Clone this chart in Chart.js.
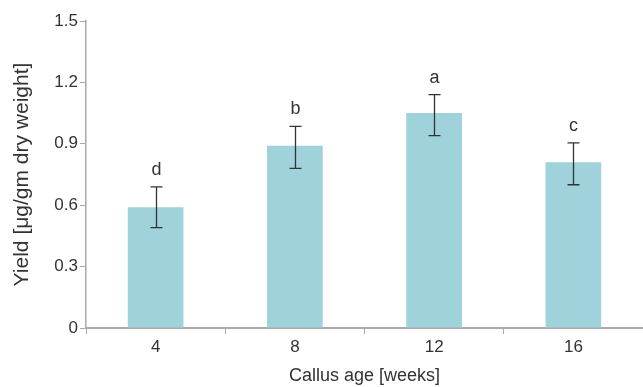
<!DOCTYPE html>
<html>
<head>
<meta charset="utf-8">
<script src="https://cdn.jsdelivr.net/npm/chart.js@4/dist/chart.umd.min.js"></script>
<style>
html,body{margin:0;padding:0;background:#fff;}
#wrap{width:643px;height:387px;position:relative;}
</style>
</head>
<body>
<div id="wrap"><canvas id="c" width="643" height="387"></canvas></div>
<script>
const categories = ['4', '8', '12', '16'];
const yieldValues = [0.59, 0.89, 1.05, 0.81];
const errorLower = [0.49, 0.78, 0.94, 0.70];
const errorUpper = [0.69, 0.985, 1.14, 0.905];
const letters = ['d', 'b', 'a', 'c'];
const yTicks = [0, 0.3, 0.6, 0.9, 1.2, 1.5];

const FONT = "'Liberation Sans', Arial, sans-serif";
const TEXT = '#333333';
const AXIS = '#aaaaaa';

const errorPlugin = {
  id: 'errorBars',
  afterDatasetsDraw(chart) {
    const ctx = chart.ctx;
    const y = chart.scales.y;
    const meta = chart.getDatasetMeta(0);
    ctx.save();
    ctx.strokeStyle = '#333333';
    ctx.lineWidth = 1.3;
    meta.data.forEach((bar, i) => {
      const x = Math.round(bar.x) + 0.5;
      const yl = y.getPixelForValue(errorLower[i]);
      const yu = y.getPixelForValue(errorUpper[i]);
      ctx.beginPath();
      ctx.moveTo(x, yl); ctx.lineTo(x, yu);
      ctx.moveTo(x - 6, yu); ctx.lineTo(x + 6, yu);
      ctx.moveTo(x - 6, yl); ctx.lineTo(x + 6, yl);
      ctx.stroke();
      ctx.fillStyle = TEXT;
      ctx.font = '18px ' + FONT;
      ctx.textAlign = 'center';
      ctx.textBaseline = 'alphabetic';
      ctx.fillText(letters[i], x, yu - 12);
    });
    ctx.restore();
  }
};

new Chart(document.getElementById('c'), {
  type: 'bar',
  data: {
    labels: categories,
    datasets: [{
      data: yieldValues,
      backgroundColor: '#9fd2db',
      borderWidth: 0,
      categoryPercentage: 1.0,
      barPercentage: 0.4
    }]
  },
  options: {
    responsive: false,
    animation: false,
    events: [],
    layout: { padding: { top: 21, right: 0, bottom: 0, left: 0 } },
    plugins: { legend: { display: false }, tooltip: { enabled: false } },
    scales: {
      x: {
        offset: true,
        afterFit(s) { s.height = 59; },
        grid: { offset: true, drawOnChartArea: false, drawTicks: true, tickLength: 6, color: AXIS, lineWidth: 1 },
        border: { color: AXIS, width: 2 },
        ticks: { color: TEXT, font: { family: FONT, size: 17 }, padding: 3 },
        title: { display: true, text: 'Callus age [weeks]', color: TEXT, font: { family: FONT, size: 18 }, padding: { top: 0, bottom: 0 } }
      },
      y: {
        min: 0, max: 1.5,
        afterFit(s) { s.width = 86; },
        afterBuildTicks(s) { s.ticks = yTicks.map(v => ({ value: v })); },
        grid: { drawOnChartArea: false, drawTicks: true, tickLength: 6, color: AXIS, lineWidth: 1 },
        border: { color: AXIS, width: 1.5 },
        ticks: {
          color: TEXT, font: { family: FONT, size: 17 }, padding: 2,
          callback: (v) => String(Number(v.toFixed(1)))
        },
        title: { display: true, text: 'Yield [μg/gm dry weight]', color: TEXT, font: { family: FONT, size: 21 }, padding: { top: 10, bottom: 0 } }
      }
    }
  },
  plugins: [errorPlugin]
});
</script>
</body>
</html>
